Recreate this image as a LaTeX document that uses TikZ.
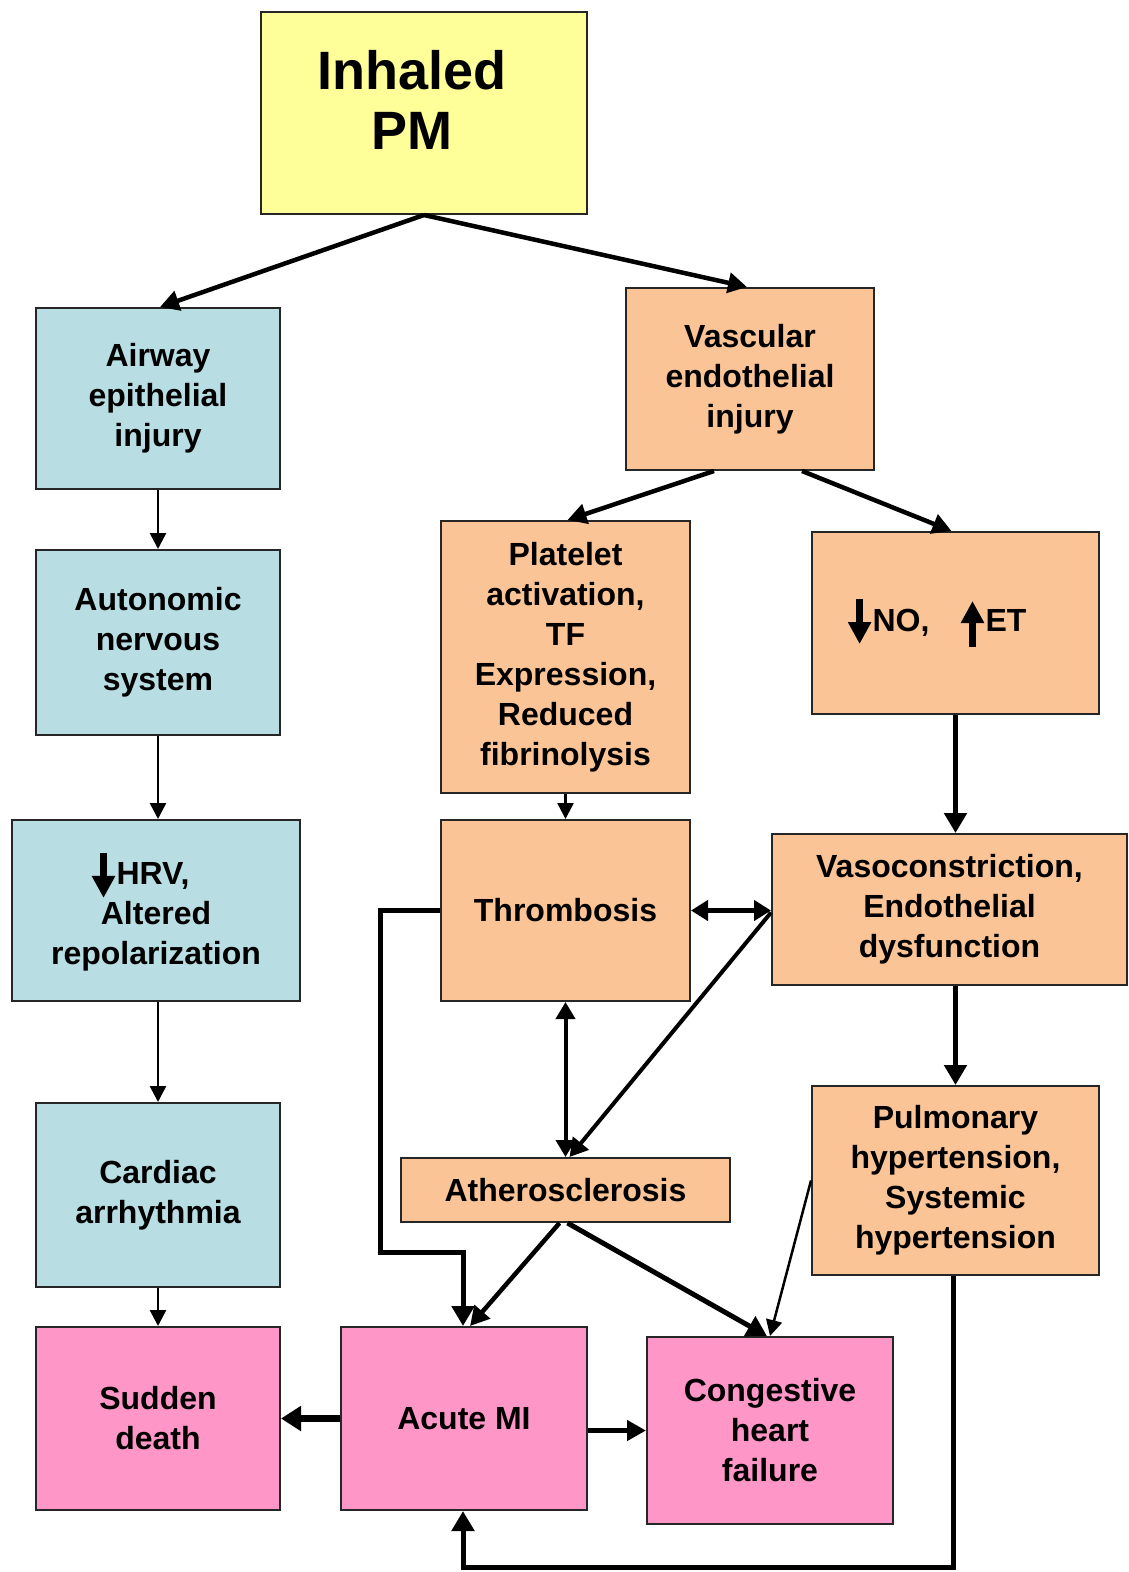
\documentclass[tikz,border=0pt]{standalone}
\usepackage{fontspec}
\setmainfont{Liberation Sans}
\usetikzlibrary{arrows.meta}
\definecolor{cyel}{HTML}{FFFF99}
\definecolor{cblue}{HTML}{B8DEE4}
\definecolor{cpeach}{HTML}{FBC497}
\definecolor{cpink}{HTML}{FF96C8}
\newcommand{\dnarr}{\tikz[baseline=0pt,x=1pt,y=1pt]\draw[line width=7pt,-{Triangle[length=22pt,width=22pt]}] (0,32) -- (0,-13);\hspace{2pt}}
\newcommand{\uparr}{\tikz[baseline=0pt,x=1pt,y=1pt]\draw[line width=7pt,-{Triangle[length=22pt,width=22pt]}] (0,-16) -- (0,30);\hspace{2pt}}
\begin{document}
\begin{tikzpicture}[x=1pt,y=-1pt,
  box/.style={draw=black!85, line width=2pt, align=center, inner sep=0pt,
    font=\bfseries\fontsize{32}{40}\selectfont},
  ybox/.style={box, fill=cyel},
  bbox/.style={box, fill=cblue},
  obox/.style={box, fill=cpeach},
  pbox/.style={box, fill=cpink},
  thick arr/.style={line width=5pt, -{Triangle[length=20pt,width=22pt]}},
  mid arr/.style={line width=4.5pt, -{Triangle[length=19pt,width=20pt]}},
  thin arr/.style={line width=2.5pt, -{Triangle[length=16pt,width=16pt]}},
]
\useasboundingbox (0,0) rectangle (1129,1572);

\node[ybox, minimum width=326pt, minimum height=202pt,
  font=\bfseries\fontsize{54}{60}\selectfont] (pm) at (424,113)
  {Inhaled\rule{24pt}{0pt}\\PM\rule{24pt}{0pt}\rule[-26pt]{0pt}{0pt}};

\node[bbox, minimum width=244pt, minimum height=181pt] (airway) at (158,398.5)
  {Airway\\epithelial\\injury};
\node[bbox, minimum width=244pt, minimum height=185pt] (auto) at (158,642.5)
  {Autonomic\\nervous\\system};
\node[bbox, minimum width=288pt, minimum height=181pt] (hrv) at (156,910.5)
  {\dnarr HRV,\rule{30pt}{0pt}\\Altered\\repolarization};
\node[bbox, minimum width=244pt, minimum height=184pt] (card) at (158,1195)
  {Cardiac\\arrhythmia};

\node[obox, minimum width=248pt, minimum height=182pt] (vasc) at (750,379)
  {Vascular\\endothelial\\injury};
\node[obox, minimum width=249pt, minimum height=272pt] (plat) at (565.5,657)
  {Platelet\\activation,\\TF\\Expression,\\Reduced\\fibrinolysis};
\node[obox, minimum width=287pt, minimum height=182pt] (noet) at (955.5,623)
  {\dnarr NO,\quad\uparr ET\rule{36pt}{0pt}};
\node[obox, minimum width=249pt, minimum height=181pt] (thr) at (565.5,910.5)
  {Thrombosis};
\node[obox, minimum width=355pt, minimum height=151pt] (vaso) at (949.5,909.5)
  {Vasoconstriction,\\Endothelial\\dysfunction};
\node[obox, minimum width=329pt, minimum height=64pt] (ath) at (565.5,1190)
  {Atherosclerosis};
\node[obox, minimum width=287pt, minimum height=189pt] (pulm) at (955.5,1180.5)
  {Pulmonary\\hypertension,\\Systemic\\hypertension};

\node[pbox, minimum width=244pt, minimum height=183pt] (sud) at (158,1418.5)
  {Sudden\\death};
\node[pbox, minimum width=246pt, minimum height=183pt] (ami) at (464,1418.5)
  {Acute MI};
\node[pbox, minimum width=246pt, minimum height=187pt] (chf) at (770,1430.5)
  {Congestive\\heart\\failure};

% top split
\coordinate (pmb) at (pm.south);
\draw[mid arr] (pmb) -- ([xshift=2pt]airway.north);
\draw[mid arr] (pmb) -- ([xshift=-3pt]vasc.north);

% left column
\draw[thin arr] (airway.south) -- (auto.north);
\draw[thin arr] (auto.south) -- (auto.south |- hrv.north);
\draw[thin arr] (auto.south |- hrv.south) -- (card.north);
\draw[thin arr] (card.south) -- (sud.north);

% vascular branches
\draw[mid arr] ([xshift=-36pt]vasc.south) -- ([xshift=2pt]plat.north);
\draw[mid arr] ([xshift=52pt]vasc.south) -- ([xshift=-4pt]noet.north);
\draw[thin arr] (plat.south) -- (thr.north);
\draw[thick arr] (noet.south) -- (noet.south |- vaso.north);

% thrombosis / vasoconstriction
\draw[line width=4.5pt, {Triangle[length=17pt,width=20pt]}-{Triangle[length=17pt,width=20pt]}]
  (thr.east) -- (thr.east -| vaso.west);
\draw[line width=4pt, {Triangle[length=17pt,width=19pt]}-{Triangle[length=17pt,width=19pt]}]
  (thr.south) -- (ath.north);
\draw[line width=4pt, -{Triangle[length=18pt,width=20pt]}]
  ([yshift=-2pt]thr.east -| vaso.west) -- ([xshift=4pt]ath.north);

% thrombosis loop to acute MI
\coordinate (lp1) at (380,910.5);
\coordinate (lp2) at (380,1252);
\coordinate (lp3) at (463,1252);
\draw[thick arr]
  (thr.west) -- (lp1) -- (lp2) -- (lp3) -- (lp3 |- ami.north);

% vasoconstriction to pulmonary
\draw[thick arr] (noet.south |- vaso.south) -- (noet.south |- pulm.north);

% atherosclerosis outputs
\draw[mid arr] ([xshift=-6pt]ath.south) -- ([xshift=6pt]ami.north);
\draw[thick arr] ([xshift=2pt]ath.south) -- ([xshift=-3pt]chf.north);
\draw[thin arr] (pulm.west) -- (chf.north);

% acute MI outputs
\draw[line width=6.5pt, -{Triangle[length=20pt,width=24pt]}] (ami.west) -- (sud.east);
\draw[mid arr] (ami.east |- chf.west) -- (chf.west);

% pulmonary loop back to acute MI
\coordinate (bl1) at (953,1567);
\coordinate (bl2) at (463,1567);
\draw[thick arr]
  (pulm.south -| bl1) -- (bl1) -- (bl2) -- (bl2 |- ami.south);
\end{tikzpicture}
\end{document}
